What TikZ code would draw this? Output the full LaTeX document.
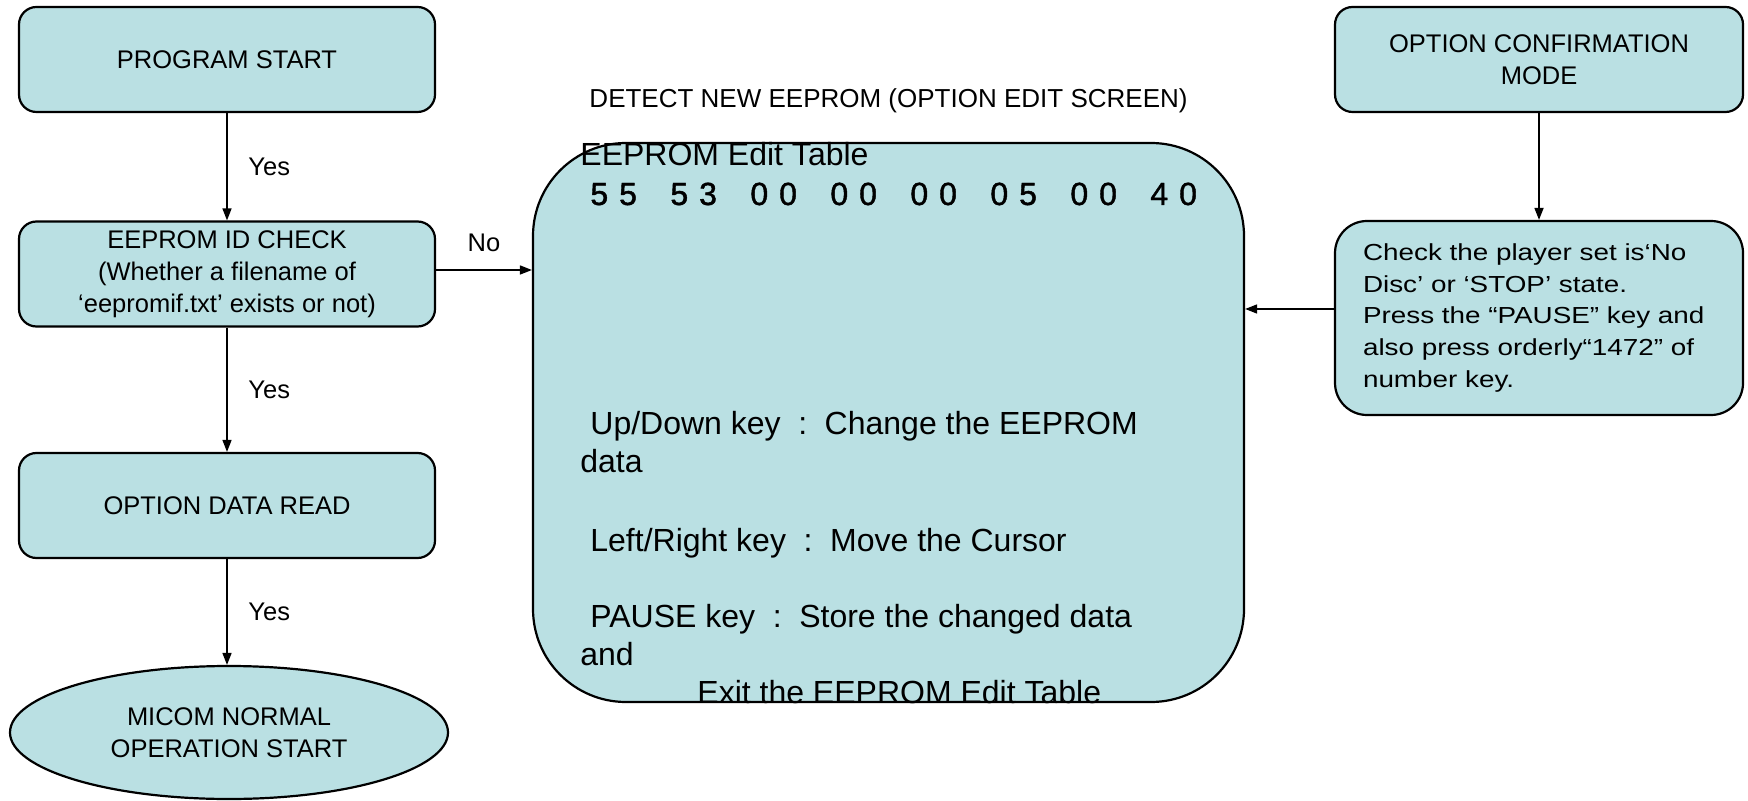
\documentclass[tikz,border=0pt]{standalone}
\usepackage{fontspec}
\setmainfont{Liberation Sans}
\newfontfamily\widefont{Liberation Sans}[FakeStretch=1.2]
\newfontfamily\bytefont{Liberation Sans}[FakeBold=1.3]
\usetikzlibrary{arrows.meta, shapes.geometric}
\definecolor{boxfill}{RGB}{186,224,227}
\newcommand{\keysep}{\hspace{0.55em}:\hspace{0.55em}}

\begin{document}
\begin{tikzpicture}[x=0.5pt, y=-0.5pt, >={Triangle[length=6pt, width=4.5pt]},
  flowbox/.style={draw, fill=boxfill, line width=1.1pt, rounded corners=8.75pt,
    minimum width=208pt, minimum height=52.5pt, align=center,
    font=\fontsize{12.75}{16}\selectfont},
  flow/.style={->, line width=0.8pt},
  edgelabel/.style={font=\fontsize{12.75}{16}\selectfont},
  screentext/.style={anchor=base west, inner sep=0pt, font=\fontsize{16}{19}\selectfont}]

  \useasboundingbox (0,0) rectangle (1748,801);

  % --- LEFT: start -> id check -> read -> normal operation ---
  \node[flowbox] (start) at (227,59.5) {PROGRAM START};
  \node[flowbox] (idcheck) at (227,274)
    {EEPROM ID CHECK\\(Whether a filename of\\‘eepromif.txt’ exists or not)};
  \node[flowbox] (optread) at (227,505.5) {OPTION DATA READ};
  \node[flowbox, ellipse, minimum width=219pt, minimum height=66.5pt] (micom) at (229,732.5)
    {MICOM NORMAL\\OPERATION START};

  \draw[flow] (start) -- node[edgelabel, right=7pt] {Yes} (idcheck);
  \draw[flow] (idcheck) -- node[edgelabel, right=7pt] {Yes} (optread);
  \draw[flow] (optread) -- node[edgelabel, right=7pt] {Yes} (optread |- micom.north);

  % --- MIDDLE: the edit screen ---
  \node[font=\fontsize{13}{16}\selectfont] (screentitle) at (888.5,100.5)
    {DETECT NEW EEPROM (OPTION EDIT SCREEN)};
  \node[draw, fill=boxfill, line width=1.1pt, rounded corners=46.5pt,
    minimum width=355.5pt, minimum height=279.5pt] (edit) at (888.5,422.5) {};

  \node[screentext] (tablename) at (580,166) {EEPROM Edit Table};
  \foreach \hi/\lo [count=\k from 0] in {5/5,5/3,0/0,0/0,0/0,0/5,0/0,4/0}
    \node[screentext, font=\bytefont\fontsize{16}{19}\selectfont] (byte\k)
      at (590+80*\k,205) {\hi\hspace{5.5pt}\lo};

  \node[screentext] (keyupdown) at (590,435) {Up/Down key\keysep Change the EEPROM};
  \node[screentext] (keydata)   at (580,473) {data};
  \node[screentext] (keyleft)   at (590,551) {Left/Right key\keysep Move the Cursor};
  \node[screentext] (keypause)  at (590,627) {PAUSE key\keysep Store the changed data};
  \node[screentext] (keyand)    at (580,665) {and};
  \node[screentext] (keyexit)   at (697,703) {Exit the EEPROM Edit Table};

  \coordinate (idout) at ([yshift=2pt]idcheck.east);
  \draw[flow] (idout) -- node[edgelabel, above=5.5pt] {No} (idout -| edit.west);

  % --- RIGHT: confirmation mode ---
  \node[flowbox, minimum width=204pt] (confirm) at (1539,59.5) {OPTION CONFIRMATION\\MODE};
  \node[flowbox, rounded corners=16pt, minimum width=204pt, text width=176pt, inner xsep=14pt,
    minimum height=97pt, align=left, font=\widefont\fontsize{11.6}{15.85}\selectfont]
    (check) at (1539,318)
    {Check the player set is‘No\\Disc’ or ‘STOP’ state.\\Press the “PAUSE” key and\\also press orderly“1472” of\\number key.};

  \draw[flow] (confirm) -- (check);
  \coordinate (chkout) at ([yshift=4.5pt]check.west);
  \draw[flow] (chkout) -- (chkout -| edit.east);

\end{tikzpicture}
\end{document}
